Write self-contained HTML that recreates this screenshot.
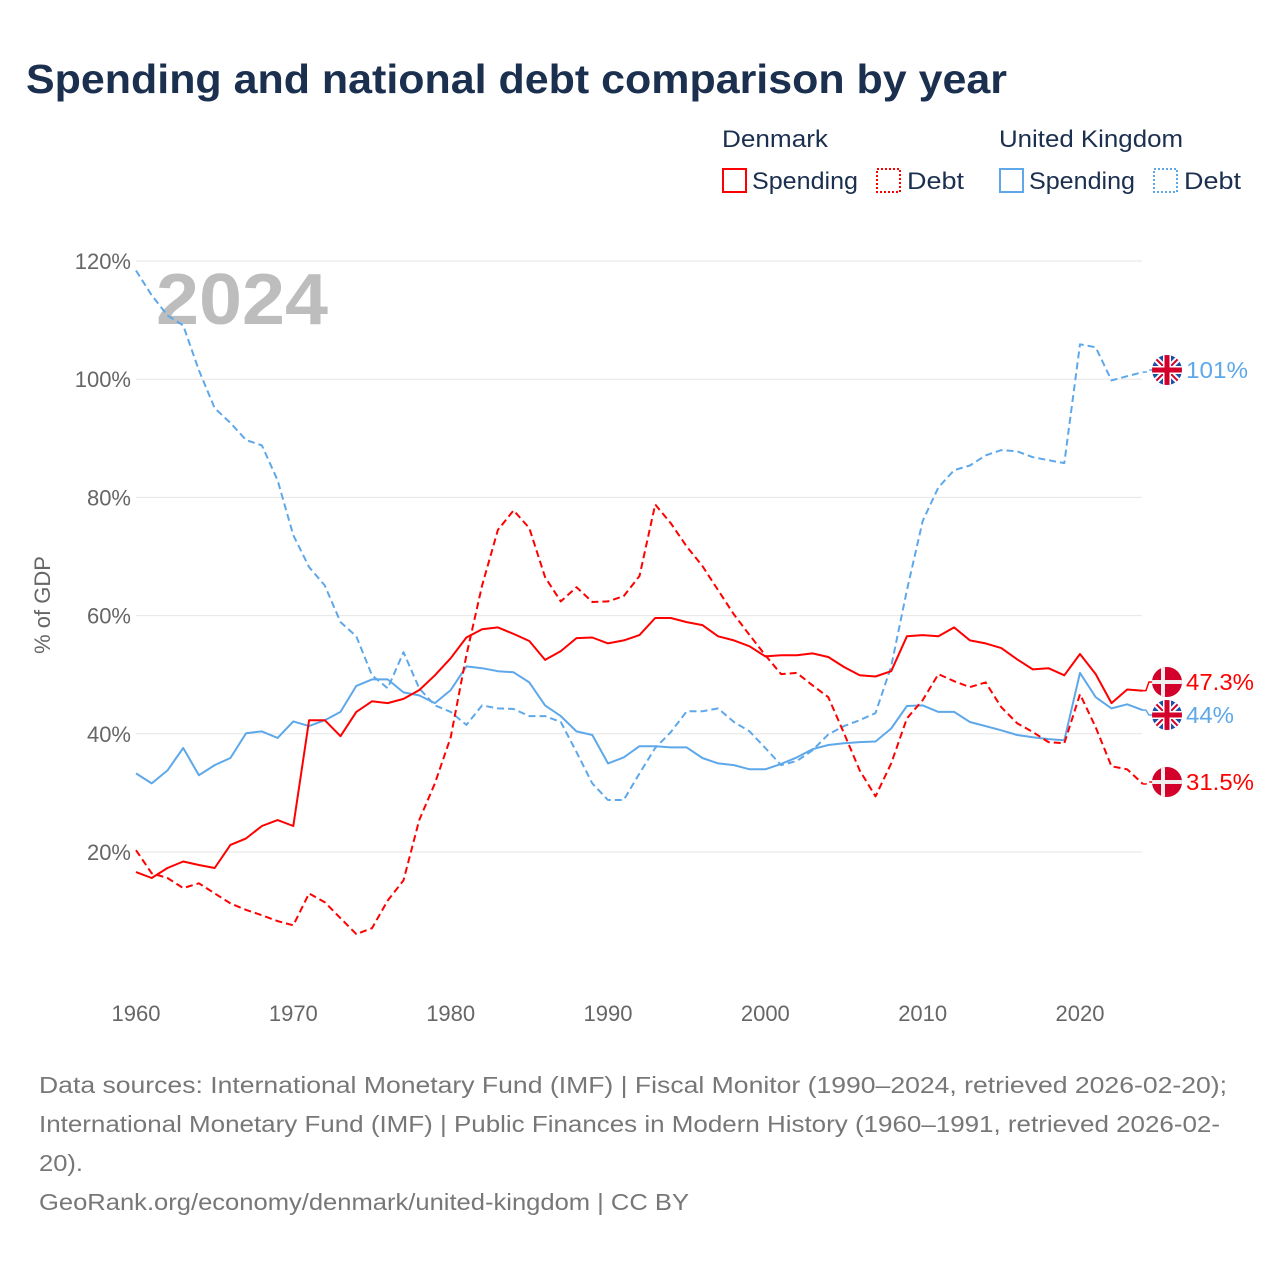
<!DOCTYPE html>
<html><head><meta charset="utf-8">
<style>
body{margin:0;background:#fff;width:1280px;height:1280px;overflow:hidden;font-family:"Liberation Sans",sans-serif;}
svg text{font-family:"Liberation Sans",sans-serif;}
</style></head>
<body>
<svg id="chart" width="1280" height="1280" viewBox="0 0 1280 1280">
<text x="26" y="93" font-size="41" font-weight="bold" fill="#1b2f4f" textLength="981" lengthAdjust="spacingAndGlyphs">Spending and national debt comparison by year</text>
<g font-size="24" fill="#1b2f4f">
<text x="722" y="147" textLength="106" lengthAdjust="spacingAndGlyphs">Denmark</text>
<text x="999" y="147" textLength="184" lengthAdjust="spacingAndGlyphs">United Kingdom</text>
<g><rect x="723" y="169" width="23" height="23" fill="none" stroke="#f00" stroke-width="2"/><text x="752" y="189" textLength="106" lengthAdjust="spacingAndGlyphs">Spending</text></g>
<g><rect x="877" y="169" width="23" height="23" fill="none" stroke="#f00" stroke-width="2" stroke-dasharray="2,2"/><text x="907" y="189" textLength="57" lengthAdjust="spacingAndGlyphs">Debt</text></g>
<g><rect x="1000" y="169" width="23" height="23" fill="none" stroke="#5ea8ea" stroke-width="2"/><text x="1029" y="189" textLength="106" lengthAdjust="spacingAndGlyphs">Spending</text></g>
<g><rect x="1154" y="169" width="23" height="23" fill="none" stroke="#5ea8ea" stroke-width="2" stroke-dasharray="2,2"/><text x="1184" y="189" textLength="57" lengthAdjust="spacingAndGlyphs">Debt</text></g>
</g>
<g id="grid"></g>
<g id="yticks" font-size="22" fill="#666"></g>
<g id="xticks" font-size="22" fill="#666"></g>
<text x="50" y="605" font-size="22" fill="#666" transform="rotate(-90 50 605)" text-anchor="middle">% of GDP</text>
<text x="156" y="324" font-size="72" font-weight="bold" fill="#bdbdbd" textLength="172" lengthAdjust="spacingAndGlyphs">2024</text>
<g id="series"></g>
<g id="ends"></g>
<g font-size="23" fill="#777">
<text x="39" y="1093" textLength="1188" lengthAdjust="spacingAndGlyphs">Data sources: International Monetary Fund (IMF) | Fiscal Monitor (1990–2024, retrieved 2026-02-20);</text>
<text x="39" y="1132" textLength="1181" lengthAdjust="spacingAndGlyphs">International Monetary Fund (IMF) | Public Finances in Modern History (1960–1991, retrieved 2026-02-</text>
<text x="39" y="1171" textLength="44" lengthAdjust="spacingAndGlyphs">20).</text>
<text x="39" y="1210" textLength="650" lengthAdjust="spacingAndGlyphs">GeoRank.org/economy/denmark/united-kingdom | CC BY</text>
</g>
</svg>
<script>
const years=[];for(let y=1960;y<=2024;y++)years.push(y);
const dkSpending=[16.6,15.6,17.3,18.4,17.8,17.3,21.2,22.3,24.4,25.4,24.4,42.3,42.3,39.6,43.7,45.5,45.2,45.9,47.4,49.9,52.8,56.3,57.7,58.0,56.9,55.7,52.5,54.0,56.2,56.3,55.3,55.8,56.7,59.6,59.6,58.9,58.4,56.5,55.8,54.8,53.1,53.3,53.3,53.6,53.0,51.3,49.9,49.7,50.6,56.5,56.7,56.5,58.0,55.8,55.3,54.5,52.6,50.9,51.1,49.9,53.5,50.1,45.2,47.5,47.3];
const dkDebt=[20.3,16.4,15.6,13.9,14.7,13.0,11.3,10.2,9.3,8.3,7.6,13.0,11.5,8.8,6.1,7.1,11.8,15.2,25.4,31.6,39.4,53.3,65.1,74.5,77.8,74.8,66.5,62.4,64.8,62.3,62.4,63.3,66.7,78.8,75.6,71.7,68.4,64.3,60.2,56.7,53.3,50.1,50.3,48.2,46.2,40.1,33.8,29.4,35.0,42.6,45.7,50.1,48.9,47.9,48.7,44.5,41.8,40.3,38.6,38.4,46.7,41.1,34.5,34.0,31.5];
const ukSpending=[33.3,31.6,33.8,37.6,33.0,34.7,35.9,40.1,40.4,39.3,42.1,41.3,42.3,43.7,48.1,49.2,49.2,47.0,46.5,45.2,47.4,51.4,51.1,50.6,50.4,48.7,44.8,43.0,40.4,39.8,35.0,36.0,37.9,37.9,37.7,37.7,35.9,35.0,34.7,34.0,34.0,34.9,36.0,37.4,38.1,38.4,38.6,38.7,40.9,44.7,44.8,43.7,43.7,42.0,41.3,40.6,39.8,39.4,39.1,38.9,50.3,46.2,44.3,45.0,44.0];
const ukDebt=[118.4,114.2,110.8,109.1,101.5,95.1,92.6,89.7,88.8,82.9,73.6,68.2,65.1,58.9,56.5,49.9,47.7,53.8,47.7,44.8,43.7,41.5,44.8,44.3,44.2,43.0,43.0,42.0,36.9,31.6,28.8,28.8,33.3,37.6,40.3,43.8,43.8,44.3,42.0,40.4,37.6,34.7,35.4,37.2,39.9,41.3,42.3,43.5,51.4,64.3,76.0,81.7,84.6,85.4,87.1,88.0,87.8,86.8,86.3,85.8,105.9,105.4,99.8,100.5,101.2];
const yTicks=[20,40,60,80,100,120];
const xTicks=[1960,1970,1980,1990,2000,2010,2020];
const endLabels=["47.3%","44%","31.5%","101%"];

const NS="http://www.w3.org/2000/svg";
const X=y=>136+(y-1960)*(944/60);
const Y=v=>970.2-v*5.91;
function mk(tag,attrs,parent){const e=document.createElementNS(NS,tag);for(const k in attrs)e.setAttribute(k,attrs[k]);parent.appendChild(e);return e;}
const grid=document.getElementById('grid'),yt=document.getElementById('yticks'),xt=document.getElementById('xticks'),ser=document.getElementById('series'),ends=document.getElementById('ends');
yTicks.forEach(v=>{
  const l=mk('line',{x1:136,x2:1142,y1:Y(v),y2:Y(v),stroke:'#e6e6e6','stroke-width':1},grid);
  
  
  const t=mk('text',{x:131,y:Y(v)+8,'text-anchor':'end'},yt);t.textContent=v+'%';
  
  
});
xTicks.forEach(v=>{
  const t=mk('text',{x:X(v),y:1021,'text-anchor':'middle'},xt);t.textContent=v;
  
  
});
function line(data,color,dash,name){
  const d=data.map((v,i)=>(i?'L':'M')+X(years[i]).toFixed(1)+','+Y(v).toFixed(1)).join('');
  const p=mk('path',{d:d,fill:'none',stroke:color,'stroke-width':2,'stroke-linejoin':'round'},ser);
  if(dash)p.setAttribute('stroke-dasharray',dash);
  
  
}
const RED='#f00',BLUE='#5ea8ea';
line(ukSpending,BLUE,null,'line-uk-spending');
line(ukDebt,BLUE,'7,4','line-uk-debt');
line(dkSpending,RED,null,'line-dk-spending');
line(dkDebt,RED,'7,4','line-dk-debt');

function flag(cx,cy,kind,parent){
  const g=mk('g',{},parent);
  const id='c'+Math.round(cy);
  const cp=mk('clipPath',{id:id},g);mk('circle',{cx:cx,cy:cy,r:15},cp);
  const f=mk('g',{'clip-path':'url(#'+id+')'},g);
  if(kind==='dk'){
    mk('rect',{x:cx-15,y:cy-15,width:30,height:30,fill:'#d2002a'},f);
    mk('rect',{x:cx-6,y:cy-15,width:4,height:30,fill:'#eee'},f);
    mk('rect',{x:cx-15,y:cy-2,width:30,height:4,fill:'#eee'},f);
  }else{
    mk('rect',{x:cx-15,y:cy-15,width:30,height:30,fill:'#1b4fa8'},f);
    mk('path',{d:`M${cx-15},${cy-15}L${cx+15},${cy+15}M${cx+15},${cy-15}L${cx-15},${cy+15}`,stroke:'#fff','stroke-width':6},f);
    mk('path',{d:`M${cx-15},${cy-15}L${cx+15},${cy+15}M${cx+15},${cy-15}L${cx-15},${cy+15}`,stroke:'#d2002a','stroke-width':2},f);
    mk('rect',{x:cx-4,y:cy-15,width:8,height:30,fill:'#fff'},f);
    mk('rect',{x:cx-15,y:cy-4,width:30,height:8,fill:'#fff'},f);
    mk('rect',{x:cx-2.5,y:cy-15,width:5,height:30,fill:'#d2002a'},f);
    mk('rect',{x:cx-15,y:cy-2.5,width:30,height:5,fill:'#d2002a'},f);
  }
  return g;
}
const last=years.length-1;
const endSpecs=[
  {v:dkSpending[last],ly:682,kind:'dk',color:RED,label:endLabels[0],dash:null,name:'end-label-dk-spending',w:68},
  {v:ukSpending[last],ly:715,kind:'uk',color:BLUE,label:endLabels[1],dash:null,name:'end-label-uk-spending',w:48},
  {v:dkDebt[last],ly:782,kind:'dk',color:RED,label:endLabels[2],dash:'4,3',name:'end-label-dk-debt',w:68},
  {v:ukDebt[last],ly:370,kind:'uk',color:BLUE,label:endLabels[3],dash:'4,3',name:'end-label-uk-debt',w:62}
];
endSpecs.forEach(s=>{
  const x0=X(2024),y0=Y(s.v);
  const c=mk('path',{d:`M${x0},${y0}L${x0+3},${y0}L${x0+6},${s.ly}L${x0+10},${s.ly}`,fill:'none',stroke:s.color,'stroke-width':1.5},ends);
  if(s.dash)c.setAttribute('stroke-dasharray',s.dash);
  const g=flag(1167,s.ly,s.kind,ends);
  
  
  const t=mk('text',{x:1186,y:s.ly+8,'font-size':23,fill:s.color,textLength:s.w,lengthAdjust:'spacingAndGlyphs'},ends);
  t.textContent=s.label;
  
  
});
</script>
</body></html>
